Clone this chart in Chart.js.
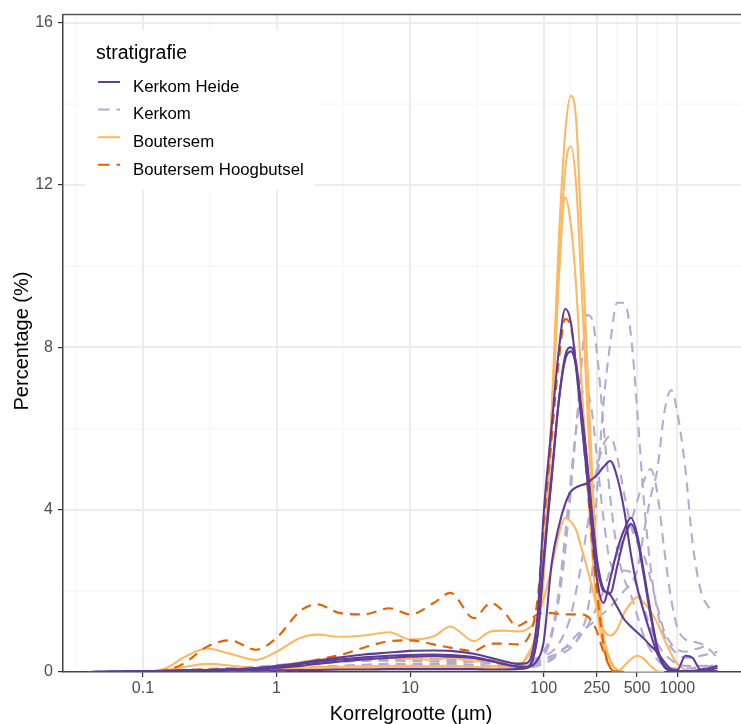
<!DOCTYPE html>
<html lang="nl">
<head>
  <meta charset="UTF-8" />
  <title>Korrelgrootteverdeling per stratigrafie</title>
  <script src="https://cdn.jsdelivr.net/npm/chart.js"></script>
  <style>
    html, body {
      margin: 0;
      padding: 0;
      background: #ffffff;
    }
    #wrap {
      width: 741px;
      height: 724px;
    }
  </style>
</head>
<body>

<div id="wrap">
  <canvas id="grain" width="741" height="724"></canvas>
</div>

<script>
  // korrelgrootte klassen (µm)
  const sizes = [0.04, 0.07, 0.1, 0.15, 0.2, 0.3, 0.45, 0.7, 1, 1.5, 2, 3, 4.5, 7, 10, 15, 20, 30, 40, 50, 63, 75,
                 90, 100, 115, 130, 145, 160, 175, 190, 210, 230, 250,
                 280, 315, 355, 400, 450, 500, 560, 630, 710, 800, 900,
                 1000, 1150, 1300, 1500, 1750, 2000];

  const groups = ['Kerkom Heide', 'Kerkom', 'Boutersem', 'Boutersem Hoogbutsel'];
  const groupColors = ['#5e3c99', '#b2abd2', '#fdb863', '#e66101'];
  const groupDashed = [false, true, false, true];

  // Kerkom Heide
  const kh1 = [0, 0.01, 0.02, 0.03, 0.04, 0.05, 0.07, 0.1, 0.15, 0.22, 0.28, 0.36, 0.43, 0.48, 0.52, 0.53, 0.52, 0.45, 0.35, 0.27, 0.2, 0.22,
               1.4, 3.9, 6.1, 7.95, 8.95, 8.6, 7.5, 6.3, 4.9, 3.5, 2.3,
               1.7, 2.3, 3.0, 3.5, 3.8, 3.4, 2.5, 1.5, 0.6, 0.15, 0.03,
               0.02, 0.02, 0.03, 0.06, 0.1, 0.15];
  const kh2 = [0, 0.01, 0.02, 0.03, 0.04, 0.05, 0.06, 0.09, 0.13, 0.2, 0.25, 0.31, 0.36, 0.4, 0.42, 0.43, 0.42, 0.37, 0.28, 0.2, 0.13, 0.12,
               0.9, 2.7, 4.8, 6.7, 7.8, 8.0, 7.6, 6.6, 5.3, 3.9, 2.8,
               2.05, 1.9, 1.6, 1.3, 1.12, 0.98, 0.83, 0.65, 0.48, 0.25, 0.07,
               0.05, 0.4, 0.35, 0.06, 0.06, 0.1];
  const kh3 = [0, 0, 0.01, 0.01, 0.02, 0.02, 0.03, 0.03, 0.04, 0.05, 0.05, 0.06, 0.06, 0.07, 0.07, 0.07, 0.07, 0.07, 0.06, 0.06, 0.07, 0.1,
               0.3, 0.75, 2.7, 3.6, 4.15, 4.45, 4.55, 4.6, 4.65, 4.75, 4.85,
               5.05, 5.2, 4.8, 4.0, 2.9, 2.1, 1.5, 0.95, 0.45, 0.15, 0.03,
               0.02, 0.02, 0.02, 0.02, 0.02, 0.02];
  const kh4 = [0, 0.01, 0.02, 0.02, 0.03, 0.04, 0.05, 0.07, 0.1, 0.15, 0.2, 0.26, 0.31, 0.35, 0.38, 0.39, 0.38, 0.34, 0.27, 0.2, 0.14, 0.13,
               0.95, 2.8, 4.9, 6.7, 7.7, 7.9, 7.5, 6.5, 5.2, 3.8, 2.7,
               2.0, 1.95, 2.6, 3.3, 3.65, 3.3, 2.4, 1.4, 0.55, 0.12, 0.03,
               0.02, 0.02, 0.02, 0.02, 0.02, 0.02];

  // Kerkom
  const kk1 = [0, 0, 0.01, 0.01, 0.02, 0.03, 0.03, 0.04, 0.05, 0.08, 0.12, 0.15, 0.18, 0.2, 0.2, 0.2, 0.2, 0.18, 0.16, 0.15, 0.15, 0.18,
               0.25, 0.3, 0.4, 0.45, 0.5, 0.6, 0.75, 1.0, 1.4, 2.4, 4.4,
               6.6, 8.1, 9.1, 9.1, 8.3, 6.5, 4.3, 2.6, 1.5, 0.9, 0.6,
               0.45, 0.35, 0.35, 0.4, 0.45, 0.5];
  const kk2 = [0, 0.01, 0.02, 0.03, 0.04, 0.06, 0.08, 0.1, 0.12, 0.16, 0.2, 0.25, 0.28, 0.3, 0.3, 0.3, 0.28, 0.25, 0.22, 0.2, 0.2, 0.22,
               0.3, 0.4, 0.9, 1.8, 3.0, 4.5, 6.0, 7.4, 8.8, 8.7, 7.9,
               6.1, 4.3, 3.0, 2.3, 1.9, 1.4, 0.9, 0.55, 0.3, 0.15, 0.1,
               0.08, 0.08, 0.1, 0.12, 0.15, 0.2];
  const kk3 = [0, 0, 0.01, 0.01, 0.02, 0.02, 0.03, 0.03, 0.04, 0.05, 0.06, 0.07, 0.08, 0.09, 0.1, 0.1, 0.1, 0.09, 0.08, 0.08, 0.08, 0.1,
               0.15, 0.2, 0.3, 0.45, 0.6, 0.75, 0.9, 1.0, 1.1, 1.2, 1.3,
               1.45, 1.6, 1.8, 2.0, 2.2, 2.5, 3.4, 4.3, 5.0, 6.4, 6.95,
               6.4, 5.0, 3.2, 2.0, 1.55, null];
  const kk4 = [0, 0.01, 0.02, 0.03, 0.05, 0.07, 0.09, 0.12, 0.15, 0.2, 0.24, 0.27, 0.28, 0.28, 0.27, 0.26, 0.25, 0.24, 0.22, 0.2, 0.18, 0.2,
               0.3, 0.5, 1.0, 2.0, 3.4, 4.8, 6.0, 6.8, 6.95, 6.4, 5.3,
               3.8, 2.7, 2.5, 2.5, 2.45, 2.1, 1.6, 1.1, 0.7, 0.45, 0.3,
               0.2, 0.15, 0.15, 0.15, 0.15, 0.15];
  const kk5 = [0, 0.01, 0.01, 0.02, 0.03, 0.04, 0.05, 0.07, 0.09, 0.11, 0.13, 0.15, 0.16, 0.17, 0.17, 0.16, 0.15, 0.14, 0.13, 0.12, 0.12, 0.14,
               0.2, 0.25, 0.35, 0.5, 0.6, 0.65, 0.75, 0.9, 1.1, 1.35, 1.6,
               2.0, 2.5, 2.9, 3.3, 3.7, 4.2, 4.7, 5.0, 4.4, 3.0, 1.8,
               1.1, 0.8, 0.75, 0.7, 0.55, 0.35];
  const kk6 = [0, 0.01, 0.02, 0.03, 0.05, 0.07, 0.1, 0.13, 0.17, 0.22, 0.26, 0.3, 0.32, 0.33, 0.33, 0.32, 0.3, 0.28, 0.26, 0.24, 0.22, 0.25,
               0.35, 0.4, 0.5, 0.7, 1.0, 1.4, 2.0, 2.6, 3.5, 4.3, 5.0,
               5.6, 5.8, 5.3, 4.4, 3.6, 3.2, 2.9, 2.3, 1.6, 1.0, 0.7,
               0.55, 0.5, 0.55, 0.6, 0.7, null];

  // Boutersem
  const bt1 = [0, 0, 0.01, 0.02, 0.03, 0.04, 0.04, 0.04, 0.05, 0.06, 0.07, 0.08, 0.09, 0.1, 0.1, 0.1, 0.1, 0.09, 0.08, 0.08, 0.1, 0.2,
               0.9, 2.5, 6.5, 10.7, 13.3, 14.2, 13.6, 11.1, 7.9, 5.0, 2.7,
               0.9, 0.25, 0.05, 0, 0, 0, 0, 0, 0, null, null,
               null, null, null, null, null, null];
  const bt2 = [0, 0, 0.01, 0.05, 0.12, 0.2, 0.16, 0.1, 0.14, 0.24, 0.3, 0.32, 0.33, 0.35, 0.33, 0.3, 0.35, 0.26, 0.3, 0.25, 0.2, 0.35,
               1.0, 2.4, 6.0, 9.8, 12.4, 12.95, 12.0, 9.8, 6.8, 4.2, 2.4,
               0.9, 0.3, 0.05, 0, 0, 0, 0, 0, 0, null, null,
               null, null, null, null, null, null];
  const bt3 = [0, 0, 0.01, 0.02, 0.04, 0.06, 0.06, 0.06, 0.08, 0.1, 0.12, 0.13, 0.14, 0.15, 0.15, 0.14, 0.16, 0.12, 0.15, 0.12, 0.15, 0.4,
               1.2, 2.9, 6.4, 9.8, 11.7, 11.0, 9.5, 7.4, 5.0, 3.0, 1.6,
               0.6, 0.1, 0, 0.15, 0.32, 0.4, 0.33, 0.15, 0.02, 0, null,
               null, null, null, null, null, null];
  const bt4 = [0, 0, 0, 0.1, 0.35, 0.58, 0.45, 0.3, 0.5, 0.84, 0.92, 0.87, 0.9, 0.98, 0.8, 0.88, 1.12, 0.76, 1.0, 1.02, 1.0, 1.05,
               1.35, 1.8, 2.6, 3.4, 3.8, 3.7, 3.5, 3.1, 2.6, 2.1, 1.6,
               1.05, 0.9, 1.05, 1.45, 1.7, 1.85, 1.72, 1.5, 1.2, 0.8, 0.45,
               0.2, 0.05, 0, null, null, null];

  // Boutersem Hoogbutsel
  const bh1 = [0, 0, 0, 0.05, 0.2, 0.62, 0.78, 0.55, 0.84, 1.5, 1.67, 1.45, 1.42, 1.57, 1.42, 1.7, 1.95, 1.33, 1.7, 1.5, 1.13, 1.25,
               1.42, 1.45, 1.45, 1.43, 1.42, 1.42, 1.42, 1.42, 1.38, 1.25, 1.0,
               0.5, 0.12, 0.01, 0, null, null, null, null, null, null, null,
               null, null, null, null, null, null];
  const bh2 = [0, 0, 0, 0.01, 0.03, 0.06, 0.06, 0.06, 0.1, 0.2, 0.3, 0.42, 0.6, 0.76, 0.78, 0.68, 0.6, 0.52, 0.7, 0.7, 0.68, 0.8,
               1.8, 3.6, 5.8, 7.7, 8.7, 8.5, 7.6, 6.4, 4.8, 3.2, 2.0,
               0.7, 0.1, 0.01, 0, null, null, null, null, null, null, null,
               null, null, null, null, null, null];

  // first entry is drawn on top
  const curves = [
    [0, kh1], [0, kh2], [0, kh3], [0, kh4],
    [3, bh1], [3, bh2],
    [2, bt1], [2, bt2], [2, bt3], [2, bt4],
    [1, kk1], [1, kk2], [1, kk3], [1, kk4], [1, kk5], [1, kk6]
  ];

  const xTicks = [0.1, 1, 10, 100, 250, 500, 1000];
  const xMinor = [0.0316, 0.316, 3.16, 31.6, 158.1, 353.6, 707.1];
  const yTicks = [0, 4, 8, 12, 16];
  const yMinor = [2, 6, 10, 14];

  const FONT = '"Liberation Sans", Arial, sans-serif';
  const DASH = [10, 7];

  const datasets = curves.map(([g, vals]) => ({
    label: groups[g],
    data: sizes.map((s, i) => ({ x: s, y: vals[i] })).filter(p => p.y !== null),
    borderColor: groupColors[g],
    borderWidth: 2.1,
    borderDash: groupDashed[g] ? DASH : [],
    fill: false,
    pointRadius: 0,
    cubicInterpolationMode: 'monotone'
  }));

  // panel grid + top border, drawn under everything
  const panelGrid = {
    id: 'panelGrid',
    beforeDraw(chart) {
      const { ctx, chartArea: a, scales: { x, y } } = chart;
      ctx.save();
      ctx.beginPath();
      ctx.rect(a.left, a.top, a.right - a.left, a.bottom - a.top);
      ctx.clip();
      const vline = v => { const p = Math.round(x.getPixelForValue(v)); ctx.beginPath(); ctx.moveTo(p, a.top); ctx.lineTo(p, a.bottom); ctx.stroke(); };
      const hline = v => { const p = Math.round(y.getPixelForValue(v)); ctx.beginPath(); ctx.moveTo(a.left, p); ctx.lineTo(a.right, p); ctx.stroke(); };
      ctx.strokeStyle = '#f4f4f4';
      ctx.lineWidth = 1;
      xMinor.forEach(vline);
      yMinor.forEach(hline);
      ctx.strokeStyle = '#ececec';
      ctx.lineWidth = 2;
      xTicks.forEach(vline);
      yTicks.forEach(hline);
      ctx.restore();

      ctx.save();
      ctx.strokeStyle = '#555555';
      ctx.lineWidth = 1.5;
      ctx.beginPath();
      ctx.moveTo(a.left, a.top);
      ctx.lineTo(a.right, a.top);
      ctx.stroke();
      ctx.restore();
    }
  };

  // legend inside the panel + axis titles
  const legendAndTitles = {
    id: 'legendAndTitles',
    afterDraw(chart) {
      const ctx = chart.ctx;
      ctx.save();
      ctx.fillStyle = '#ffffff';
      ctx.fillRect(85, 30, 230, 160);

      ctx.fillStyle = '#000000';
      ctx.textAlign = 'left';
      ctx.textBaseline = 'alphabetic';
      ctx.font = '19.5px ' + FONT;
      ctx.fillText('stratigrafie', 96, 58.5);

      ctx.font = '16.8px ' + FONT;
      groups.forEach((name, i) => {
        const ky = 82 + i * 27.6;
        ctx.strokeStyle = groupColors[i];
        ctx.lineWidth = 2;
        ctx.setLineDash(groupDashed[i] ? [11.5, 7] : []);
        ctx.beginPath();
        ctx.moveTo(98, ky);
        ctx.lineTo(120, ky);
        ctx.stroke();
        ctx.fillText(name, 133, ky + 9.7);
      });
      ctx.setLineDash([]);

      ctx.font = '20px ' + FONT;
      ctx.textAlign = 'center';
      ctx.fillText('Korrelgrootte (µm)', 411, 720);

      ctx.translate(28, 341);
      ctx.rotate(-Math.PI / 2);
      ctx.fillText('Percentage (%)', 0, 0);
      ctx.restore();
    }
  };

  new Chart(document.getElementById('grain'), {
    type: 'line',
    data: { datasets },
    options: {
      responsive: false,
      animation: false,
      events: [],
      layout: { padding: { top: 11, right: 0, bottom: 0, left: 0 } },
      plugins: {
        legend: { display: false },
        tooltip: { enabled: false }
      },
      scales: {
        x: {
          type: 'logarithmic',
          min: 0.0252,
          max: 3000,
          afterBuildTicks: s => { s.ticks = xTicks.map(v => ({ value: v })); },
          afterFit: s => { s.height = 52; },
          ticks: {
            autoSkip: false,
            maxRotation: 0,
            padding: 2,
            color: '#4d4d4d',
            font: { family: FONT, size: 16 },
            callback: v => String(v)
          },
          grid: { display: true, drawOnChartArea: false, drawTicks: true, tickLength: 5, color: '#333333', lineWidth: 1.2 },
          border: { display: true, color: '#444444', width: 1.5 }
        },
        y: {
          type: 'linear',
          min: 0,
          max: 16.2,
          afterBuildTicks: s => { s.ticks = yTicks.map(v => ({ value: v })); },
          afterFit: s => { s.width = 63; },
          ticks: {
            padding: 5,
            color: '#4d4d4d',
            font: { family: FONT, size: 16 }
          },
          grid: { display: true, drawOnChartArea: false, drawTicks: true, tickLength: 5, color: '#333333', lineWidth: 1.2 },
          border: { display: true, color: '#444444', width: 1.5 }
        }
      }
    },
    plugins: [panelGrid, legendAndTitles]
  });
</script>

</body>
</html>
